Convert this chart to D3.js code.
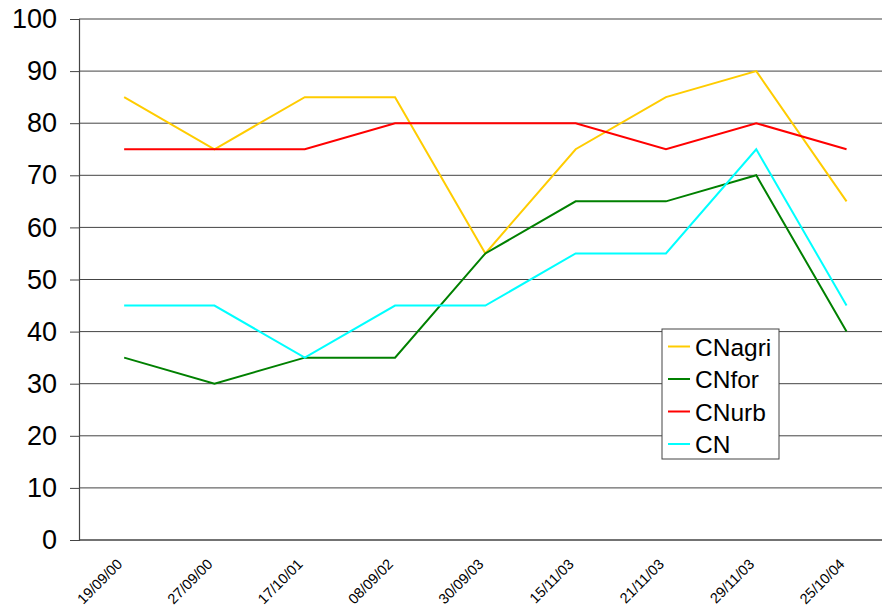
<!DOCTYPE html>
<html>
<head>
<meta charset="utf-8">
<script src="https://cdn.jsdelivr.net/npm/d3@7/dist/d3.min.js"></script>
<style>
  html, body { margin: 0; padding: 0; background: #fff; }
  svg { display: block; font-family: "Liberation Sans", Arial, sans-serif; }
</style>
</head>
<body>
<svg id="chart" width="882" height="608"></svg>
<script>
// Sampling dates (category axis)
const dates = ["19/09/00", "27/09/00", "17/10/01", "08/09/02", "30/09/03",
               "15/11/03", "21/11/03", "29/11/03", "25/10/04"];

// Curve Number series
const cnAgri = [85, 75, 85, 85, 55, 75, 85, 90, 65];
const cnFor  = [35, 30, 35, 35, 55, 65, 65, 70, 40];
const cnUrb  = [75, 75, 75, 80, 80, 80, 75, 80, 75];
const cn     = [45, 45, 35, 45, 45, 55, 55, 75, 45];

const seriesNames = ["CNagri", "CNfor", "CNurb", "CN"];
const seriesValues = [cnAgri, cnFor, cnUrb, cn];
const seriesColors = ["#FFCC00", "#008000", "#FF0000", "#00FFFF"];

const yTicks = [0, 10, 20, 30, 40, 50, 60, 70, 80, 90, 100];

const svg = d3.select("#chart");
const plotLeft = 79, plotTop = 19, plotBottom = 540;
const band = 90.3;
const plotRight = plotLeft + band * dates.length;

const x = d3.scaleBand().domain(dates).range([plotLeft, plotRight]).padding(0);
const y = d3.scaleLinear().domain([0, 100]).range([plotBottom, plotTop]);

// horizontal gridlines
svg.append("g")
  .selectAll("line")
  .data(yTicks.filter(d => d > 0))
  .join("line")
  .attr("x1", plotLeft).attr("x2", plotRight)
  .attr("y1", d => y(d)).attr("y2", d => y(d))
  .attr("stroke", d => d === 100 ? "#808080" : "#444")
  .attr("stroke-width", d => d === 100 ? 1.6 : 1);

// y axis
const yAxis = svg.append("g")
  .attr("transform", `translate(${plotLeft},0)`)
  .call(d3.axisLeft(y).tickValues(yTicks).tickSize(9).tickPadding(13));
yAxis.select(".domain").attr("stroke", "#444").attr("stroke-width", 1.2);
yAxis.selectAll(".tick line").attr("stroke", "#444");
yAxis.selectAll(".tick text")
  .attr("font-size", 27)
  .attr("fill", "#000")
  .attr("font-family", "Liberation Sans, Arial, sans-serif");

// x axis
const xAxis = svg.append("g")
  .attr("transform", `translate(0,${plotBottom})`)
  .call(d3.axisBottom(x).tickSize(0).tickPadding(0));
xAxis.select(".domain").attr("stroke", "#444").attr("stroke-width", 1.6)
  .attr("d", `M${plotLeft},0H${plotRight}`);
xAxis.selectAll(".tick text")
  .attr("font-size", 14.5)
  .attr("fill", "#000")
  .attr("font-family", "Liberation Sans, Arial, sans-serif")
  .attr("text-anchor", "end")
  .attr("dy", 0)
  .attr("transform", "translate(-1,25) rotate(-45)");

// series lines
const line = d3.line()
  .x((d, i) => x(dates[i]) + x.bandwidth() / 2)
  .y(d => y(d));

svg.append("g")
  .selectAll("path")
  .data(seriesValues)
  .join("path")
  .attr("d", d => line(d))
  .attr("fill", "none")
  .attr("stroke", (d, i) => seriesColors[i])
  .attr("stroke-width", 2)
  .attr("stroke-linejoin", "miter");

// legend
const lg = svg.append("g").attr("transform", "translate(662,329)");
lg.append("rect")
  .attr("width", 117).attr("height", 130)
  .attr("fill", "#fff").attr("stroke", "#444").attr("stroke-width", 1);
const items = lg.selectAll("g.item")
  .data(seriesNames)
  .join("g")
  .attr("class", "item")
  .attr("transform", (d, i) => `translate(0,${17.5 + i * 32.5})`);
items.append("line")
  .attr("x1", 6).attr("x2", 28)
  .attr("stroke", (d, i) => seriesColors[i])
  .attr("stroke-width", 2);
items.append("text")
  .attr("x", 33).attr("y", 9)
  .attr("font-size", 24.5)
  .attr("fill", "#000")
  .text(d => d);
</script>
</body>
</html>
